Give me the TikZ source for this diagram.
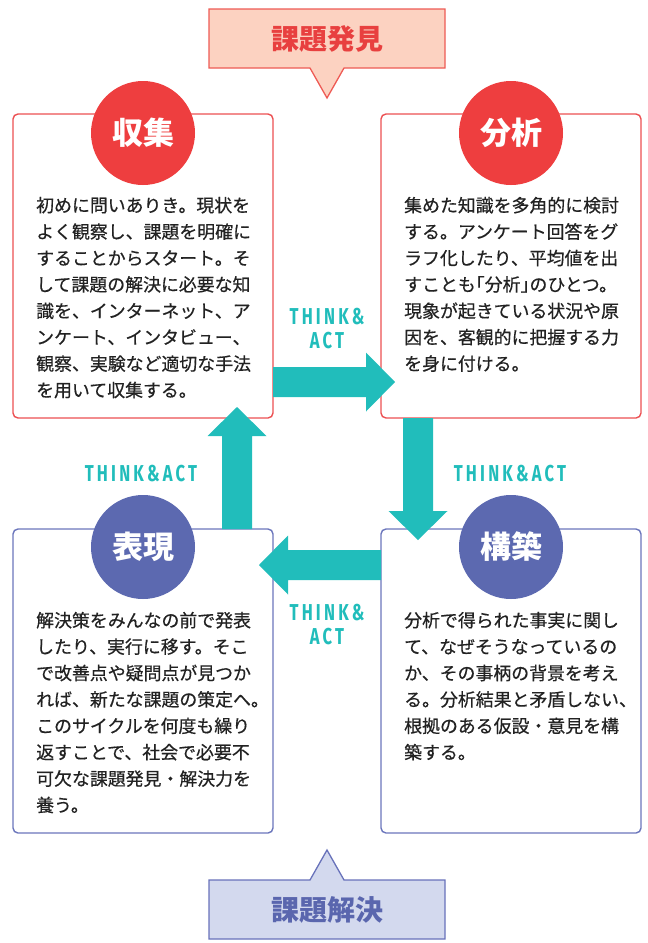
\documentclass[tikz,border=0pt]{standalone}
\usepackage{fontspec}
\setmainfont{Noto Sans CJK JP}
\newfontfamily\bodyjp[FakeBold=0.5]{Noto Sans CJK JP}
\newfontfamily\thinkfont[FakeStretch=0.72,LetterSpace=14]{Fira Sans}
\usetikzlibrary{calc}
\definecolor{redcirc}{HTML}{EE3E3F}
\definecolor{redline}{HTML}{EC5052}
\definecolor{pinkfill}{HTML}{FCD2C1}
\definecolor{pinkline}{HTML}{EE5B55}
\definecolor{redtext}{HTML}{E8403F}
\definecolor{bluecirc}{HTML}{5C69B0}
\definecolor{blueline}{HTML}{6B76BC}
\definecolor{lavfill}{HTML}{D3D9EE}
\definecolor{lavline}{HTML}{6872BA}
\definecolor{bluetext}{HTML}{5A66AE}
\definecolor{tealc}{HTML}{21BDBB}
\definecolor{bodyc}{HTML}{222222}
\tikzset{
  cardbox/.style={rectangle, line width=1.4pt, rounded corners=5pt, fill=white,
    minimum width=260pt, minimum height=304pt, inner sep=0pt, outer sep=0pt},
  redbox/.style={cardbox, draw=redline},
  bluebox/.style={cardbox, draw=blueline},
  headcirc/.style={circle, minimum size=104pt, inner sep=0pt, text=white,
    font=\fontsize{31}{31}\selectfont\bfseries},
  bodyfont/.style={inner sep=0pt, text=bodyc, font=\bodyjp\fontsize{17.9}{26.4}\selectfont},
  thinklabel/.style={inner sep=0pt, text=tealc, anchor=base,
    font=\thinkfont\bfseries\fontsize{23}{23}\selectfont},
  calloutfont/.style={inner sep=0pt, font=\fontsize{28}{28}\selectfont\bfseries}
}
\newcommand\bodylines[4]{%
  \foreach \ln [count=\i from 0] in {#4} {%
    \node[bodyfont, anchor=base west] (#1\i) at (#2, {#3+26.4*\i}) {\ln};}}
\newcommand\tarrow[2]{%
  \fill[tealc, shift={#1}, rotate=#2]
    (0,-15) -- (93,-15) -- (93,-29.5) -- (122,0) -- (93,29.5) -- (93,15) -- (0,15) -- cycle;}
\begin{document}
\begin{tikzpicture}[x=1pt,y=-1pt]
\useasboundingbox (0,0) rectangle (648,943);
% top callout
\filldraw[fill=pinkfill, draw=pinkline, line width=1.3pt, line join=miter]
  (209,9) -- (445,9) -- (445,68) -- (344,68) -- (327,98) -- (310,68) -- (209,68) -- cycle;
\node[calloutfont, text=redtext] (k1) at (327,38.5) {課題発見};
% bottom callout
\filldraw[fill=lavfill, draw=lavline, line width=1.3pt, line join=miter]
  (209,880) -- (310,880) -- (327,850) -- (344,880) -- (445,880) -- (445,939) -- (209,939) -- cycle;
\node[calloutfont, text=bluetext] (k2) at (327,909.5) {課題解決};
% boxes
\node[redbox] (b1) at (143,266) {};
\node[redbox] (b2) at (511,266) {};
\node[bluebox] (b3) at (511,681) {};
\node[bluebox] (b4) at (143,681) {};
% arrows
\tarrow{($(b1.south east)+(0,-36)$)}{0}
\tarrow{($(b2.south west)+(37,0)$)}{-90}
\tarrow{($(b3.north west)+(0,36)$)}{180}
\tarrow{($(b4.north east)+(-36,0)$)}{90}
% circles
\node[headcirc, fill=redcirc] (c1) at (143,133) {収集};
\node[headcirc, fill=redcirc] (c2) at (511,133) {分析};
\node[headcirc, fill=bluecirc] (c3) at (511,547) {構築};
\node[headcirc, fill=bluecirc] (c4) at (143,547) {表現};
% labels
\node[thinklabel] (t1a) at (327,324) {THINK\&};
\node[thinklabel] (t1b) at (327,348) {ACT};
\node[thinklabel] (t2) at (510,481) {THINK\&ACT};
\node[thinklabel] (t3a) at (327,620) {THINK\&};
\node[thinklabel] (t3b) at (327,644) {ACT};
\node[thinklabel] (t4) at (141,481) {THINK\&ACT};
% body texts
\bodylines{p}{36}{212}{初めに問いありき。現状を,よく観察し、課題を明確に,することからスタート。そ,して課題の解決に必要な知,識を、インターネット、ア,ンケート、インタビュー、,観察、実験など適切な手法,を用いて収集する。}
\bodylines{q}{404}{212}{集めた知識を多角的に検討,する。アンケート回答をグ,ラフ化したり、平均値を出,すことも\kern-0.5em「分析」\kern-0.5em のひとつ。,現象が起きている状況や原,因を、客観的に把握する力,を身に付ける。}
\bodylines{r}{404}{627}{分析で得られた事実に関し,て、なぜそうなっているの,か、その事柄の背景を考え,る。分析結果と矛盾しない、,根拠のある仮設・意見を構,築する。}
\bodylines{s}{36}{627}{解決策をみんなの前で発表,したり、実行に移す。そこ,で改善点や疑問点が見つか,れば、新たな課題の策定へ。,このサイクルを何度も繰り,返すことで、社会で必要不,可欠な課題発見・解決力を,養う。}
\end{tikzpicture}
\end{document}
